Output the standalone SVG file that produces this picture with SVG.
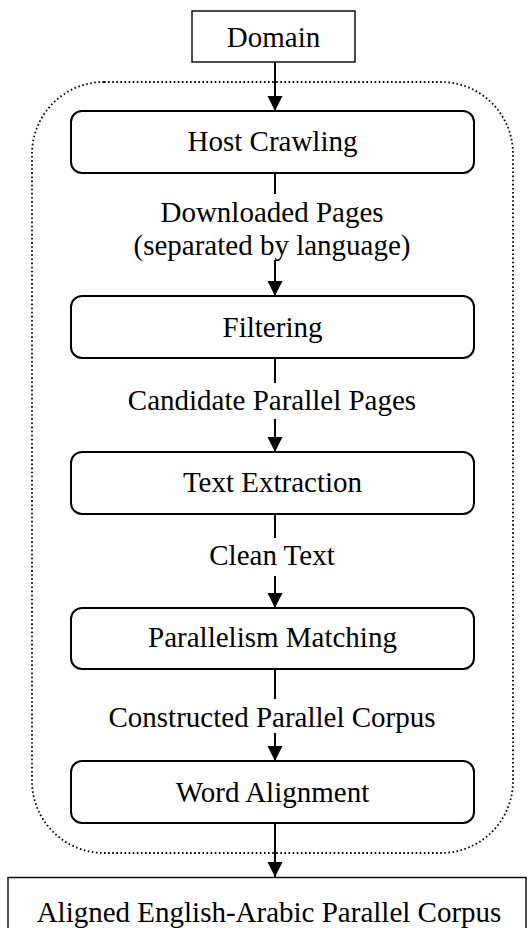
<svg xmlns="http://www.w3.org/2000/svg" width="528" height="928" viewBox="0 0 528 928">
  <style>
    .lbl { font-family: "Liberation Serif", "Times New Roman", "DejaVu Serif", serif; font-size: 29px; fill: #000; text-anchor: middle; }
    .step { fill: #fff; stroke: #000; stroke-width: 2; }
    .plain { fill: #fff; stroke: #000; stroke-width: 1.4; }
    .edge { fill: none; stroke: #000; stroke-width: 2; }
    .frame { fill: none; stroke: #000; stroke-width: 1.8; stroke-dasharray: 1.6 2.5; }
  </style>
  <defs>
    <marker id="head" markerUnits="userSpaceOnUse" markerWidth="16" markerHeight="16" refX="15" refY="8" orient="auto">
      <path d="M0,0.5 L15,8 L0,15.5 Z" fill="#000"/>
    </marker>
  </defs>
  <rect width="528" height="928" fill="#fff"/>

  <!-- dotted pipeline frame -->
  <rect id="pipeline-frame" class="frame" x="32" y="82" width="481" height="771" rx="72" ry="72"/>

  <!-- connectors -->
  <g id="connectors">
    <line class="edge" x1="275" y1="62" x2="275" y2="111" marker-end="url(#head)"/>
    <line class="edge" x1="275" y1="173" x2="275" y2="194"/>
    <line class="edge" x1="275" y1="260" x2="275" y2="296" marker-end="url(#head)"/>
    <line class="edge" x1="275" y1="358" x2="275" y2="383"/>
    <line class="edge" x1="275" y1="419" x2="275" y2="452" marker-end="url(#head)"/>
    <line class="edge" x1="275" y1="514" x2="275" y2="538"/>
    <line class="edge" x1="275" y1="576" x2="275" y2="608" marker-end="url(#head)"/>
    <line class="edge" x1="275" y1="669" x2="275" y2="699"/>
    <line class="edge" x1="275" y1="733" x2="275" y2="761" marker-end="url(#head)"/>
    <line class="edge" x1="275" y1="823" x2="275" y2="877" marker-end="url(#head)"/>
    <text class="lbl" x="272" y="222">Downloaded Pages</text>
    <text class="lbl" x="272" y="255">(separated by language)</text>
    <text class="lbl" x="272" y="410">Candidate Parallel Pages</text>
    <text class="lbl" x="272" y="565">Clean Text</text>
    <text class="lbl" x="272" y="727">Constructed Parallel Corpus</text>
  </g>

  <g id="domain">
    <rect class="plain" x="192" y="11" width="163" height="51"/>
    <text class="lbl" x="273.5" y="47">Domain</text>
  </g>

  <g id="host-crawling">
    <rect class="step" x="71" y="111" width="403" height="62" rx="11" ry="11"/>
    <text class="lbl" x="272.5" y="151">Host Crawling</text>
  </g>

  <g id="filtering">
    <rect class="step" x="71" y="296" width="403" height="62" rx="11" ry="11"/>
    <text class="lbl" x="272.5" y="337">Filtering</text>
  </g>

  <g id="text-extraction">
    <rect class="step" x="71" y="452" width="403" height="62" rx="11" ry="11"/>
    <text class="lbl" x="272.5" y="492">Text Extraction</text>
  </g>

  <g id="parallelism-matching">
    <rect class="step" x="71" y="608" width="403" height="61" rx="11" ry="11"/>
    <text class="lbl" x="272.5" y="647">Parallelism Matching</text>
  </g>

  <g id="word-alignment">
    <rect class="step" x="71" y="761" width="403" height="62" rx="11" ry="11"/>
    <text class="lbl" x="272.5" y="802">Word Alignment</text>
  </g>

  <g id="aligned-corpus">
    <rect class="plain" x="8" y="877.5" width="518" height="60"/>
    <text class="lbl" x="269" y="922">Aligned English-Arabic Parallel Corpus</text>
  </g>
</svg>
